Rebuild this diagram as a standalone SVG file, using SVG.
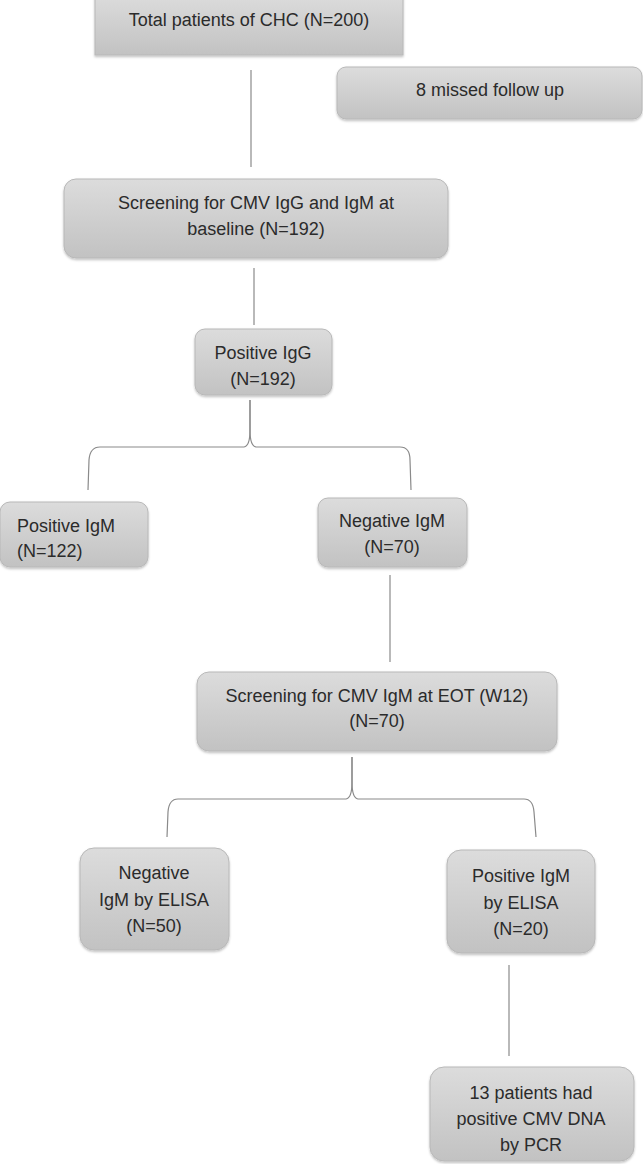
<svg xmlns="http://www.w3.org/2000/svg" width="643" height="1164" viewBox="0 0 643 1164">
<defs>
<linearGradient id="g" x1="0" y1="0" x2="0" y2="1">
<stop offset="0" stop-color="#dcdcdc"/>
<stop offset="1" stop-color="#c2c2c2"/>
</linearGradient>
<filter id="sh" x="-10%" y="-10%" width="120%" height="130%">
<feDropShadow dx="0" dy="1.5" stdDeviation="1.2" flood-color="#000" flood-opacity="0.25"/>
</filter>
</defs>
<style>
.box{fill:url(#g);stroke:#b8b8b8;stroke-width:1;filter:url(#sh)}
.t{font-family:"Liberation Sans",Arial,sans-serif;font-size:18px;fill:#2b2b2b;text-anchor:middle;dominant-baseline:central}
.l{text-anchor:start}
.c{fill:none;stroke:#8a8a8a;stroke-width:1.2}
</style>
<rect width="643" height="1164" fill="#fff"/>
<g id="connectors">
<line class="c" x1="251" y1="70" x2="251" y2="167"/>
<line class="c" x1="254" y1="268" x2="254" y2="325"/>
<path class="c" d="M250,400 V430 Q250,446 244,447 H100 Q90,447 89,460 L88,490"/>
<path class="c" d="M250,400 V430 Q250,446 256,447 H400 Q410,447 410,460 L411,490"/>
<line class="c" x1="390" y1="575" x2="390" y2="662"/>
<path class="c" d="M352,757 V782 Q352,798 346,799 H178 Q169,799 168,812 L167,837"/>
<path class="c" d="M352,757 V782 Q352,798 358,799 H524 Q533,799 534,812 L536,837"/>
<line class="c" x1="509" y1="965" x2="509" y2="1056"/>
</g>
<g id="n1"><rect class="box" x="95" y="-5" width="308" height="60"/><text class="t" x="249" y="20">Total patients of CHC (N=200)</text></g>
<g id="n2"><rect class="box" x="337" y="67" width="305" height="52" rx="9"/><text class="t" x="490" y="90">8 missed follow up</text></g>
<g id="n3"><rect class="box" x="64" y="179" width="384" height="79" rx="12"/><text class="t" x="256" y="203">Screening for CMV IgG and IgM at</text><text class="t" x="256" y="229">baseline (N=192)</text></g>
<g id="n4"><rect class="box" x="195" y="329" width="137" height="66" rx="10"/><text class="t" x="263" y="353">Positive IgG</text><text class="t" x="263" y="379">(N=192)</text></g>
<g id="n5"><rect class="box" x="0" y="502" width="148" height="65" rx="10"/><text class="t l" x="17" y="526">Positive IgM</text><text class="t l" x="17" y="551">(N=122)</text></g>
<g id="n6"><rect class="box" x="318" y="498" width="149" height="69" rx="10"/><text class="t" x="392" y="521">Negative IgM</text><text class="t" x="392" y="547">(N=70)</text></g>
<g id="n7"><rect class="box" x="197" y="672" width="360" height="79" rx="12"/><text class="t" x="377" y="696">Screening for CMV IgM at EOT (W12)</text><text class="t" x="377" y="721">(N=70)</text></g>
<g id="n8"><rect class="box" x="80" y="848" width="149" height="102" rx="14"/><text class="t" x="154" y="873">Negative</text><text class="t" x="154" y="900">IgM by ELISA</text><text class="t" x="154" y="926">(N=50)</text></g>
<g id="n9"><rect class="box" x="447" y="850" width="148" height="103" rx="14"/><text class="t" x="521" y="876">Positive IgM</text><text class="t" x="521" y="903">by ELISA</text><text class="t" x="521" y="929">(N=20)</text></g>
<g id="n10"><rect class="box" x="430" y="1067" width="204" height="94" rx="14"/><text class="t" x="531" y="1093">13 patients had</text><text class="t" x="531" y="1119">positive CMV DNA</text><text class="t" x="531" y="1145">by PCR</text></g>
</svg>
